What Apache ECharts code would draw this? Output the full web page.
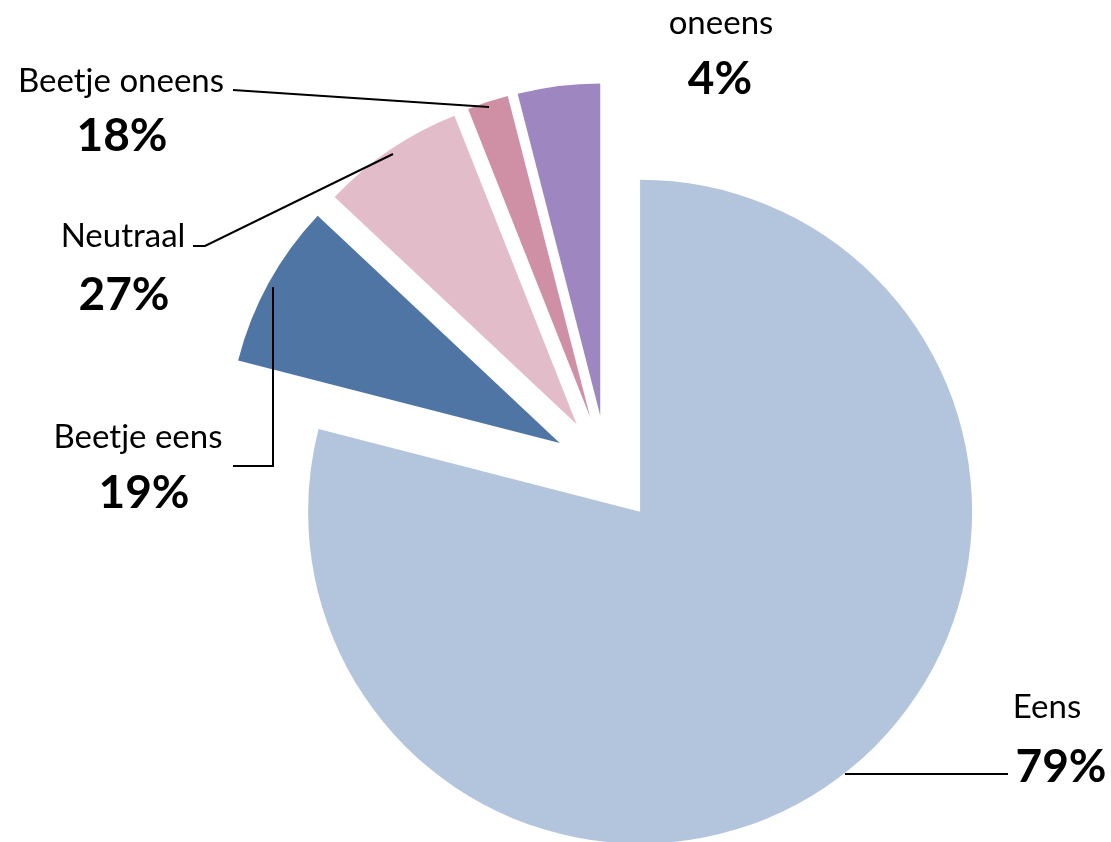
<!DOCTYPE html>
<html>
<head>
<meta charset="utf-8">
<script src="https://cdn.jsdelivr.net/npm/echarts@6/dist/echarts.min.js"></script>
<style>
html,body{margin:0;padding:0;background:#fff;}
#chart{width:1111px;height:842px;}
</style>
</head>
<body>
<div id="chart"></div>
<script>
// ---- data ----
const categories = ['Eens', 'Beetje eens', 'Neutraal', 'Beetje oneens', 'oneens'];
const sliceValues = [79, 8, 7, 2, 4];
const percentLabels = ['79%', '19%', '27%', '18%', '4%'];

// ---- styles / layout (not data) ----
const colors = ['#B3C5DC', '#4F75A5', '#E3BCCA', '#CF90A6', '#9E86C1'];
// label anchor points: [nameX, nameY, pctX, pctY]
const labelPos = [
  [1047, 707, 1061, 767],
  [138, 437, 144, 493],
  [123, 236, 124, 295],
  [121, 81, 122, 136],
  [721, 23, 720, 79]
];
const guidePts = [
  [[845, 774], [1008, 774]],
  [[273, 287], [273, 466], [233, 466]],
  [[393, 154], [205, 246], [193, 246]],
  [[489, 107], [233, 90]],
  null
];

const FONT_NAME = '33px Lato, "Noto Sans", sans-serif';
const FONT_PCT = 'bold 46px Lato, "Noto Sans", sans-serif';

const chart = echarts.init(document.getElementById('chart'), null, {renderer: 'canvas'});

const data = categories.map((name, i) => ({
  name: name,
  value: sliceValues[i],
  selected: true,
  itemStyle: {color: colors[i]},
  select: {itemStyle: {color: colors[i], borderWidth: 0}}
}));

const graphics = [];
categories.forEach((name, i) => {
  if (guidePts[i]) {
    graphics.push({
      type: 'polyline', z: 100,
      shape: {points: guidePts[i]},
      style: {stroke: '#000', lineWidth: 2, fill: null}
    });
  }
  graphics.push({
    type: 'text', z: 100,
    style: {
      text: name, x: labelPos[i][0], y: labelPos[i][1],
      font: FONT_NAME, fill: '#000',
      align: 'center', verticalAlign: 'middle',
      textAlign: 'center', textVerticalAlign: 'middle'
    }
  });
  graphics.push({
    type: 'text', z: 100,
    style: {
      text: percentLabels[i], x: labelPos[i][2], y: labelPos[i][3],
      font: FONT_PCT, fill: '#000',
      align: 'center', verticalAlign: 'middle',
      textAlign: 'center', textVerticalAlign: 'middle'
    }
  });
});

chart.setOption({
  backgroundColor: '#ffffff',
  animation: false,
  graphic: graphics,
  series: [{
    type: 'pie',
    center: [607, 469],
    radius: 332,
    startAngle: 90,
    clockwise: true,
    selectedMode: 'multiple',
    selectedOffset: 54,
    avoidLabelOverlap: false,
    emphasis: {disabled: true},
    itemStyle: {borderWidth: 0},
    label: {show: false},
    labelLine: {show: false},
    data: data
  }]
});
</script>
</body>
</html>
